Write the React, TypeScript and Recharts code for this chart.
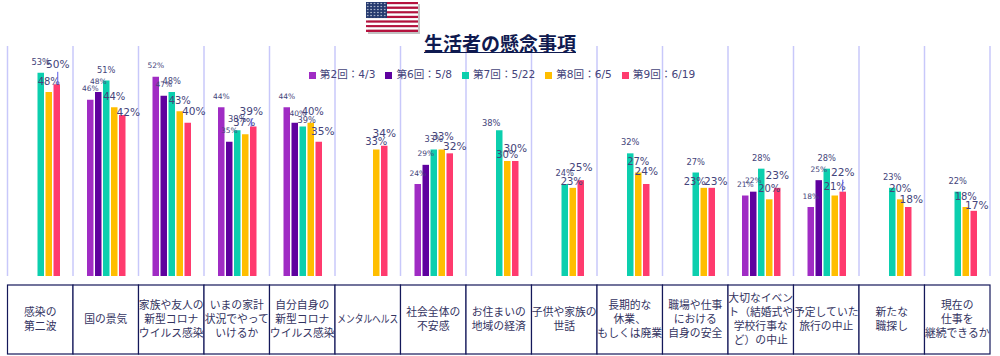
import React from 'react';
import { BarChart, Bar, XAxis, YAxis, CartesianGrid, Legend, LabelList } from 'recharts';

const CATEGORIES = [
  '感染の\n第二波',
  '国の景気',
  '家族や友人の\n新型コロナ\nウイルス感染',
  'いまの家計\n状況でやって\nいけるか',
  '自分自身の\n新型コロナ\nウイルス感染',
  'メンタルヘルス',
  '社会全体の\n不安感',
  'お住まいの\n地域の経済',
  '子供や家族の\n世話',
  '長期的な\n休業、\nもしくは廃業',
  '職場や仕事\nにおける\n自身の安全',
  '大切なイベン\nト（結婚式や\n学校行事な\nど）の中止',
  '予定していた\n旅行の中止',
  '新たな\n職探し',
  '現在の\n仕事を\n継続できるか',
];

const ROUND_2 = [null, 46, 52, 44, 44, null, 24, null, null, null, null, 21, 18, null, null];
const ROUND_6 = [null, 48, 47, 35, 40, null, 29, null, null, null, null, 22, 25, null, null];
const ROUND_7 = [53, 51, 48, 38, 39, null, 33, 38, 24, 32, 27, 28, 28, 23, 22];
const ROUND_8 = [48, 44, 43, 37, 40, 33, 33, 30, 23, 27, 23, 20, 21, 20, 18];
const ROUND_9 = [50, 42, 40, 39, 35, 34, 32, 30, 25, 24, 23, 23, 22, 18, 17];

const SERIES = [
  { key: 'r2', name: '第2回：4/3', values: ROUND_2, color: '#a02cc4', labelSize: 7.5 },
  { key: 'r6', name: '第6回：5/8', values: ROUND_6, color: '#5f019f', labelSize: 7.5 },
  { key: 'r7', name: '第7回：5/22', values: ROUND_7, color: '#0ccfae', labelSize: 8.3 },
  { key: 'r8', name: '第8回：6/5', values: ROUND_8, color: '#ffbe00', labelSize: 10 },
  { key: 'r9', name: '第9回：6/19', values: ROUND_9, color: '#ff3b6e', labelSize: 10.6 },
];

const TABLE = CATEGORIES.map((category, i) => {
  const row: Record<string, string | number | null> = { category };
  SERIES.forEach((s) => { row[s.key] = s.values[i]; });
  return row;
});

// hand placed data labels in the source: "category-series": [dx, dy]
const LABEL_NUDGE: Record<string, [number, number]> = {
  '0-4': [1, -9.5],
  '1-4': [6, 8],
  '2-4': [6, -1],
  '3-3': [-1, -1],
  '3-1': [3, 2],
  '3-4': [-2, -5],
  '4-2': [4, 4],
  '4-3': [2, 0],
  '4-4': [4, 0],
  '5-3': [0, 3],
  '5-4': [0, -2],
  '6-2': [-8, 4],
  '6-3': [1, -2],
  '6-4': [5, 4],
  '7-3': [0, 4],
  '7-4': [0, -2],
  '8-3': [-1, 5],
  '8-4': [0, -2],
  '9-4': [0, -2],
  '10-3': [-9, 5],
  '10-4': [4, 4],
  '11-0': [0, 6],
  '11-4': [0, -2],
  '12-3': [0, 2],
  '12-4': [0, -9],
  '13-4': [3, 3],
  '14-4': [3, 5],
};

const WIDTH = 1000;
const HEIGHT = 356;
const PLOT_LEFT = 7.5;
const PLOT_RIGHT = 990;
const CELL_WIDTH = (PLOT_RIGHT - PLOT_LEFT) / CATEGORIES.length;
const FONT = '"DejaVu Sans", "Noto Sans CJK JP", sans-serif';
const TEXT = '#44447a';

const makeLabel = (seriesIndex: number) => (props: any) => {
  const { x, y, width, value, index } = props;
  if (value == null) return null;
  const [dx, dy] = LABEL_NUDGE[`${index}-${seriesIndex}`] || [0, 0];
  const cx = Number(x) + Number(width) / 2 + dx;
  const cy = Number(y) - 11 + dy;
  return (
    <g>
      {seriesIndex === 4 && dy <= -5 && (
        <line x1={cx} x2={cx} y1={cy + 8} y2={Number(y)} stroke="#5a5ae6" strokeWidth={1} />
      )}
      <text x={cx} y={cy} textAnchor="middle" dominantBaseline="central" fontSize={SERIES[seriesIndex].labelSize} fontFamily={FONT} fill={TEXT}>
        {value}%
      </text>
    </g>
  );
};

const CellTick = (props: any) => {
  const { x, payload } = props;
  const lines = String(payload.value).split('\n');
  const top = 285;
  const h = 69;
  const mid = top + h / 2;
  return (
    <g>
      <rect x={x - CELL_WIDTH / 2} y={top} width={CELL_WIDTH} height={h} fill="#fff" stroke="#14185a" strokeWidth={1.2} />
      {lines.map((line, i) => (
        <text
          key={i}
          x={x}
          y={mid + (i - (lines.length - 1) / 2) * 14}
          textAnchor="middle"
          dominantBaseline="central"
          fontSize={10.8}
          fontFamily={FONT}
          fill="#33335f"
          {...(line.length > 6 ? { textLength: 61, lengthAdjust: 'spacingAndGlyphs' } : {})}
        >
          {line}
        </text>
      ))}
    </g>
  );
};

const STRIPES = [0, 1, 2, 3, 4, 5, 6, 7, 8, 9, 10, 11, 12];

const Flag = () => (
  <svg width={58} height={36} style={{ position: 'absolute', left: 365, top: 1 }}>
    <defs>
      <pattern id="stars" width="3.4" height="3" patternUnits="userSpaceOnUse">
        <circle cx="1.7" cy="1.5" r="0.7" fill="#d8dce8" />
      </pattern>
    </defs>
    <rect x={3} y={3} width={52} height={30} fill="#999" opacity={0.6} />
    <g transform="translate(1,1)">
      {STRIPES.map((s) => (
        <rect key={s} x={0} y={(s * 30) / 13} width={52} height={30 / 13} fill={s % 2 === 0 ? '#b5123e' : '#fff'} />
      ))}
      <rect x={0} y={0} width={21} height={16} fill="#25396e" />
      <rect x={0} y={0} width={21} height={16} fill="url(#stars)" />
    </g>
  </svg>
);

export default function App() {
  return (
    <div style={{ position: 'absolute', left: 0, top: 0, width: WIDTH, height: HEIGHT, background: '#fff', overflow: 'hidden' }}>
      <BarChart
        width={WIDTH}
        height={HEIGHT}
        data={TABLE}
        margin={{ top: 46, right: WIDTH - PLOT_RIGHT, bottom: 0, left: PLOT_LEFT }}
        barSize={6.5}
        barGap={1.5}
      >
        <CartesianGrid
          horizontal={false}
          stroke="#c8c8fa"
          strokeWidth={1.5}
          verticalCoordinatesGenerator={() => CATEGORIES.map((_, i) => PLOT_LEFT + i * CELL_WIDTH).concat(PLOT_RIGHT)}
        />
        <XAxis dataKey="category" height={80} interval={0} axisLine={false} tickLine={false} tick={<CellTick />} />
        <YAxis hide domain={[0, 60]} />
        <Legend
          layout="horizontal"
          verticalAlign="middle"
          align="center"
          iconType="square"
          iconSize={7}
          wrapperStyle={{ left: 297, top: 66, width: 420, fontSize: 10.6, fontFamily: FONT }}
          formatter={(value) => <span style={{ color: TEXT }}>{value}</span>}
        />
        {SERIES.map((s, i) => (
          <Bar key={s.key} dataKey={s.key} name={s.name} fill={s.color} isAnimationActive={false}>
            <LabelList dataKey={s.key} content={makeLabel(i)} />
          </Bar>
        ))}
      </BarChart>
      <Flag />
      <div
        style={{
          position: 'absolute',
          left: 400,
          width: 200,
          top: 29,
          textAlign: 'center',
          fontFamily: '"Noto Sans CJK JP", sans-serif',
          fontWeight: 700,
          fontSize: 19,
          color: '#0f1a50',
          textDecoration: 'underline',
        }}
      >
        生活者の懸念事項
      </div>
    </div>
  );
}
